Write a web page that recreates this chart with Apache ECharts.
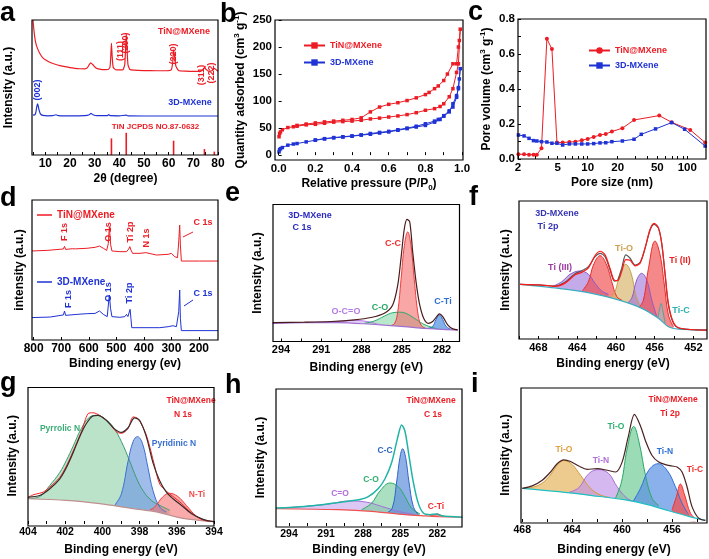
<!DOCTYPE html>
<html><head><meta charset="utf-8">
<script src="https://cdn.jsdelivr.net/npm/echarts@6/dist/echarts.min.js"></script>
<style>html,body{margin:0;padding:0;background:#fff}#c{width:709px;height:559px}</style>
</head><body><div id="c"></div>
<script>
const FONT = '"Liberation Sans", Arial, sans-serif';
const RED = '#ec1c24', BLUE = '#1f33d4';

// ---------------- DATA ----------------
// (a) XRD
const xrdTiN = [[5,100],[5.4,92],[6,84],[6.8,79],[8,74.5],[9,72],[10,70.5],[12,68.5],[14,67.2],[16,66.2],[18,65.4],[20,64.7],[22,64.2],[24,63.9],[26,63.8],[27,64.5],[27.8,67],[28.4,68.3],[29.2,67],[30.5,64.5],[32,63.6],[34,63.2],[35.5,63.3],[36.2,65],[36.5,72],[36.8,82.7],[37.1,73],[37.5,65],[38.5,63.2],[40,63],[41.5,63.2],[42.2,67],[42.5,78],[42.8,90],[43.1,79],[43.5,67],[44.3,63.3],[46,62.8],[50,62.5],[55,62.4],[59,62.4],[61,63],[61.6,68],[62,78],[62.4,73],[62.9,66],[64,62.6],[67,62.1],[70,61.9],[73,62],[74,63.5],[74.5,64.7],[75.1,63.5],[76,62.2],[77.5,62.4],[78.4,64.2],[79,63.6],[80,62]];
const xrdMX = [[5,29.5],[5.8,29.8],[6.2,32],[6.5,35.5],[6.8,37.8],[7.1,36.5],[7.5,33],[8,30.5],[9,29.3],[11,29],[13,29.1],[14.3,29.8],[15.2,29.2],[18,29],[22,29],[26,29.1],[27.8,29.8],[28.5,30.9],[29.3,29.8],[31,29.1],[35,29.1],[35.7,29.9],[36.4,29.1],[40,29],[42.8,29.5],[43.5,29],[50,28.9],[60,28.9],[70,28.9],[80,28.9]];
const tinRef = [[36.8,12.3],[42.8,16.5],[62.0,10.6],[74.5,4.4],[78.5,2.5]];
const xrdLabelsX = [10,20,30,40,50,60,70,80];

// (b) N2 isotherms
const tinAds = [[0.002,34],[0.005,40],[0.01,43],[0.02,47],[0.05,51],[0.08,52.5],[0.1,53.5],[0.15,56],[0.2,57],[0.25,59],[0.3,61],[0.35,62],[0.4,63],[0.45,64.5],[0.5,67],[0.55,68.5],[0.6,70.5],[0.65,72.5],[0.7,75],[0.75,78.5],[0.8,83],[0.85,86],[0.88,90],[0.9,95],[0.93,108],[0.95,123],[0.97,153],[0.98,169],[0.99,233]];
const tinDes = [[0.985,212],[0.98,200],[0.97,169],[0.95,169],[0.92,150],[0.9,138],[0.87,128],[0.85,123],[0.82,116],[0.8,112],[0.75,106],[0.7,101],[0.65,97],[0.6,94],[0.55,89],[0.5,80],[0.45,69],[0.4,66],[0.35,64.5],[0.3,63],[0.25,61.5],[0.2,59.6],[0.15,57.5],[0.1,55]];
const mxAds = [[0.002,6],[0.005,10],[0.01,12],[0.02,14],[0.05,18.4],[0.08,20.5],[0.1,21.5],[0.15,24.5],[0.2,27.6],[0.25,30],[0.3,32],[0.35,33.5],[0.4,35],[0.45,37],[0.5,38.7],[0.55,41],[0.6,43],[0.65,46],[0.7,49],[0.75,52],[0.8,55],[0.85,61],[0.88,66],[0.9,72],[0.93,80],[0.95,95],[0.97,110],[0.98,123],[0.99,160]];
const mxDes = [[0.985,141],[0.98,125],[0.97,107],[0.95,89],[0.93,82],[0.9,73],[0.87,66],[0.85,63],[0.8,58],[0.75,53.5],[0.7,50],[0.65,47],[0.6,44],[0.55,42],[0.5,40],[0.45,37.5],[0.4,35.6],[0.35,34],[0.3,32.5],[0.25,30.5],[0.2,28]];
const isoYLabels = [0,50,100,150,200,250];
const isoXLabels = [0,0.2,0.4,0.6,0.8,1.0];

// (c) pore size distribution
const tinPore = [[2.02,0.027],[2.30,0.027],[2.58,0.025],[2.86,0.025],[3.09,0.025],[3.44,0.061],[3.90,0.687],[4.38,0.628],[4.92,0.094],[5.61,0.094],[6.55,0.097],[7.53,0.099],[8.73,0.107],[10.0,0.115],[11.5,0.126],[13.3,0.137],[15.2,0.143],[17.5,0.157],[22.3,0.176],[29.2,0.223],[52.3,0.248],[69.6,0.21],[107,0.166],[151,0.094]];
const mxPore = [[2.02,0.137],[2.30,0.132],[2.58,0.118],[2.86,0.105],[3.09,0.103],[3.44,0.099],[3.90,0.097],[4.38,0.09],[4.92,0.09],[5.61,0.08],[6.55,0.086],[7.53,0.086],[8.73,0.086],[10.0,0.086],[11.5,0.088],[13.3,0.092],[15.2,0.093],[17.5,0.099],[22.3,0.103],[29.2,0.113],[34.5,0.141],[48,0.172],[69.6,0.208],[94,0.17],[151,0.074]];
const poreXLabels = [2,5,10,20,50,100];
const poreXTicks = [2,3,4,5,6,7,8,9,10,20,30,40,50,60,70,80,90,100];
const poreYLabels = [0,0.2,0.4,0.6,0.8];

// (d) XPS survey
const surveyTiN = [[806,63.6],[752,64],[704,64.8],[692,65],[688,66.9],[684,64.7],[660,65.2],[648,65.1],[643,66.4],[639,65.2],[607,65.5],[577,66.2],[561,67.1],[547,65.5],[535,64],[529,69],[525.3,81],[520.5,68],[516,63.6],[487,63.1],[463,63.1],[455,65],[451,66.7],[447,64.3],[441,61.9],[414,61.9],[393,62.4],[388,61.2],[354,60.7],[312,61.2],[300,61.9],[288,59.5],[278,58.8],[273.5,70],[270,82.1],[267.5,68],[264,56.4],[198,56.4],[131,56.4]];
const surveyMX = [[806,16],[740,16.4],[692,17.9],[688,20.7],[684,17.6],[643,18.3],[607,18.8],[577,19],[561,20.7],[547,18.3],[533,16.7],[529,25],[525.3,32.1],[521,22.6],[516,16.7],[487,16.2],[469,16.7],[463,18.3],[458,16.7],[453,17.9],[450,21.9],[447,15.5],[444,8.8],[342,8.8],[312,9.5],[294,10.2],[282,9.5],[273.5,20.2],[270,35.7],[267.5,15.5],[264,6.7],[131,6.7]];
const surveyLabels = [800,700,600,500,400,300,200];

// (e) 3D-MXene C 1s
const eBg = [[294.62,13.3],[292.26,13.8],[289.78,13.8],[287.29,12.6],[286.05,11.7],[284.81,10.9],[283.57,9.7],[282.32,9.0],[280.83,8.3]];
const eEnv = [[294.62,13.8],[292.26,14.1],[290.27,14.6],[288.53,15.8],[287.29,17.5],[286.30,20.6],[285.68,26.7],[285.30,41.3],[285.06,60.7],[284.81,82.5],[284.61,89.1],[284.41,87.4],[284.19,65.5],[283.94,43.7],[283.69,27.9],[283.37,17],[283.02,13.3],[282.70,14.6],[282.40,18.2],[282.20,20.1],[281.95,18.2],[281.58,12.1],[281.20,9.2],[280.83,8.5]];
const eCC = [[285.93,11.5],[285.55,13],[285.30,22],[285.06,45],[284.81,70],[284.56,80],[284.32,70],[284.07,45],[283.82,22],[283.57,12],[283.20,9.5]];
const eCO = [[287.79,13.3],[287.04,15],[286.30,18.5],[285.68,21],[285.18,21.4],[284.69,20.5],[284.07,17],[283.44,13],[282.82,10.5],[282.32,9.2]];
const eCTi = [[283.07,9.5],[282.70,11],[282.45,16],[282.20,19.4],[281.95,16],[281.70,11],[281.33,8.8]];
const eOCO = [[292.26,13.9],[290.77,14.3],[289.53,14.8],[288.53,15.4],[287.54,14.5],[286.55,12.2],[285.55,11.2]];
const c1sLabels = [294,291,288,285,282];
const c1sTicks = [294,292.5,291,289.5,288,286.5,285,283.5,282];

// (f) 3D-MXene Ti 2p
const fBg = [[469.89,39.6],[465.94,36.7],[462.49,33.1],[459.74,28.3],[457.33,22.2],[455.61,15.0],[454.58,8.9],[453.55,7.2],[450.62,6.5]];
const fEnv = [[469.89,39.6],[467.66,39.1],[466.28,38.4],[465.25,41.1],[464.21,47.3],[463.53,49.5],[462.84,52.4],[462.15,59.7],[461.63,62.1],[461.12,59.7],[460.60,50],[460.15,42],[459.81,42.8],[459.40,51.2],[458.98,60.9],[458.54,58.5],[458.02,53.6],[457.50,55.6],[456.99,65.7],[456.47,79],[456.06,83.1],[455.61,80.2],[455.27,69.3],[454.92,46.4],[454.58,24.6],[454.06,11.4],[453.38,7.7],[450.62,6.5]];
const fFit = [[469.89,39.6],[467.66,39.1],[466.28,38.2],[465.25,40.5],[464.21,46.5],[463.53,48.3],[462.84,51.5],[462.15,60.5],[461.63,63.6],[461.12,61],[460.60,51],[460.15,42.5],[459.81,42.3],[459.40,49],[458.98,57.5],[458.54,57],[458.02,53],[457.50,55],[456.99,66],[456.47,79.5],[456.06,83.8],[455.61,80.5],[455.27,69],[454.92,47],[454.58,25.5],[454.06,12],[453.38,7.8],[450.62,6.5]];
const fTi3a = [[466.62,37.9],[465.59,41.5],[464.73,46.9],[463.70,49.3],[462.84,46.9],[462.15,40.3],[461.46,34.8],[460.77,32.4]];
const fTi2a = [[463.53,34.3],[462.84,41.5],[462.32,53.6],[461.63,60.4],[460.95,53.6],[460.43,41.5],[459.91,30.7],[459.40,28.3]];
const fTiO = [[460.60,30],[460.09,34.3],[459.57,47.6],[458.98,54.1],[458.43,47.6],[457.95,31.9],[457.50,24.2]];
const fTi3b = [[458.88,25.8],[458.37,29.5],[457.85,42.8],[457.33,47.6],[456.82,42.8],[456.30,28.3],[455.78,16.2]];
const fTi2b = [[457.67,22.2],[457.16,28.3],[456.64,51.2],[455.96,71],[455.44,60.9],[455.0,39.1],[454.58,17.4],[454.06,8.9]];
const fTiC = [[455.68,15],[455.51,21],[455.34,25.8],[455.16,20.3],[454.92,11.4]];
const ti2pLabelsF = [468,464,460,456,452];
const ti2pTicksF = [470,468,466,464,462,460,458,456,454,452];

// (g) TiN@MXene N 1s
const gBg = [[404,18.5],[401.94,17.3],[400.15,14.9],[398.35,11.3],[397.10,8.9],[395.67,4.1],[394.0,1.7]];
const gEnv = [[404,19.7],[403.37,20.9],[402.84,25.7],[402.30,32.9],[401.94,41.2],[401.58,52],[401.22,64],[400.86,73.6],[400.51,79.1],[400.24,79.6],[399.79,76],[399.34,69.5],[398.98,67.1],[398.62,70.5],[398.27,77.7],[398.0,76],[397.64,64],[397.28,44.8],[396.92,31.7],[396.56,23.3],[396.20,18.5],[395.76,13.7],[395.22,7.7],[394.59,3.4],[394.0,1.7]];
const gRaw = [[404,18.9],[403.82,20.9],[403.55,22],[403.19,23.3],[402.84,26.9],[402.30,34],[401.94,42.4],[401.58,53.2],[401.13,67.6],[400.77,80.8],[400.51,81.5],[400.15,79.6],[399.70,74.8],[399.25,67.6],[398.98,66.4],[398.62,70],[398.35,78.4],[398.09,77.2],[397.64,65.2],[397.19,42.4],[396.92,29.3],[396.56,24],[396.20,20.1],[395.76,15.3],[395.22,8.2],[394.59,2.9],[394.0,1.7]];
const gPyrrolic = [[404,18.5],[403.37,20.1],[402.84,28.1],[402.30,37.6],[401.94,46.5],[401.58,56.8],[401.13,70],[400.68,78.4],[400.29,79.6],[399.88,77.2],[399.43,71.2],[398.98,60.4],[398.53,46],[398.18,34],[397.82,24.5],[397.37,17.3],[396.92,13.7],[396.38,10.1]];
const gPyridinic = [[399.34,13.7],[398.98,22.1],[398.62,46],[398.35,60.4],[398.12,64],[397.85,59.2],[397.55,41.2],[397.28,24.5],[396.92,12.5],[396.56,8.9]];
const gNTi = [[397.64,8.9],[397.19,12.5],[396.74,20.1],[396.38,22.5],[395.94,20.1],[395.49,13.7],[394.95,5.8],[394.41,2.4]];
const n1sLabels = [404,402,400,398,396,394];
const n1sTicks = [404,403,402,401,400,399,398,397,396,395,394];

// (h) TiN@MXene C 1s
const hBg = [[295.05,12.6],[290.01,11.9],[287.31,10.7],[284.61,8.3],[283.0,7.4],[281.92,6.9],[279.98,6.4]];
const hEnv = [[295.05,13.1],[292.71,14.3],[291.36,15.5],[290.01,17.1],[289.06,18.3],[288.26,19.3],[287.58,21.4],[286.77,27.4],[286.23,34.5],[285.69,46.4],[285.21,64.3],[284.88,73.8],[284.61,69],[284.29,51.2],[283.94,32.1],[283.54,16.7],[283.13,9.5],[282.59,8.3],[282.05,8.8],[281.65,7.4],[279.98,6.4]];
const hCdO = [[295.05,12.9],[292.71,14.3],[290.82,16],[289.06,18.3],[287.72,17.4],[286.50,14.3],[285.15,10.7],[283.81,8.3]];
const hCO = [[288.12,11.9],[287.31,16.7],[286.64,25.5],[285.83,31.4],[285.15,28.6],[284.61,21.4],[284.08,13.1],[283.40,8.8]];
const hCC = [[286.10,9.5],[285.64,13.1],[285.29,32.1],[285.02,50],[284.80,56.4],[284.56,50],[284.29,32.1],[283.94,14.3],[283.54,8.3]];
const hCTi = [[282.59,7.6],[282.19,8.3],[282.0,8.8],[281.78,8.1],[281.38,6.9]];

// (i) TiN@MXene Ti 2p
const iBg = [[468,25.1],[465.07,22.6],[462.4,19.7],[459.73,16.5],[457.87,12.8],[456.27,8.4],[454.67,4.2],[453.33,1.2]];
const iEnv = [[468,25.1],[467.2,27],[466.4,31.2],[465.73,37.3],[465.2,43.5],[464.67,46.4],[464.13,45.2],[463.47,41.8],[462.8,39.3],[462.0,39.8],[461.2,38.6],[460.53,37.3],[460.0,44.7],[459.52,63.1],[459.01,80.3],[458.53,71.7],[458.13,60.7],[457.6,49.6],[457.07,44.7],[456.53,42.8],[456.0,41.8],[455.6,41],[455.2,37.3],[454.8,26.3],[454.4,11.5],[453.87,2.9],[453.33,1.2]];
const iTiOa = [[467.73,25.1],[466.67,27.5],[465.87,33.7],[465.2,42.3],[464.67,45.9],[464.0,42.8],[463.33,34.9],[462.53,25.1],[461.73,20.1],[460.93,18.2]];
const iTiNa = [[464.27,22.1],[463.47,25.6],[462.67,36.1],[461.87,39.1],[461.07,36.1],[460.40,26.3],[459.6,17.7],[458.67,14]];
const iTiOb = [[460.53,17.7],[460.05,30],[459.6,54.5],[459.07,71.3],[458.61,58.2],[458.13,34.9],[457.6,17.7],[457.07,12.3]];
const iTiNb = [[459.2,14],[458.53,25.1],[457.87,38.6],[457.12,43.5],[456.4,38.6],[455.73,26.3],[455.2,14],[454.67,5.4]];
const iTiC = [[456.0,9.1],[455.65,18.9],[455.33,28.3],[454.99,20.1],[454.53,6.6],[454.13,2.5]];
const ti2pLabelsI = [468,464,460,456];
const ti2pTicksI = [468,466,464,462,460,458,456,454];

// ---------------- BUILD ----------------
const RICH = {
  sup: {fontFamily: FONT, fontWeight: 'bold', fontSize: 8, verticalAlign: 'top', lineHeight: 16},
  sub: {fontFamily: FONT, fontWeight: 'bold', fontSize: 8, verticalAlign: 'bottom', lineHeight: 16}
};
const option = {animation: false, backgroundColor: '#fff', grid: [], xAxis: [], yAxis: [], series: [], legend: [], graphic: []};

function axis(gi, o, dir) {
  const a = {
    gridIndex: gi, type: o.type || 'value', min: o.min, max: o.max, inverse: !!o.inverse, z: 10,
    position: dir === 'x' ? 'bottom' : 'left',
    name: o.name || '', nameLocation: 'middle', nameGap: o.gap || 10,
    nameTextStyle: {fontFamily: FONT, fontWeight: 'bold', fontSize: 12, color: '#000', lineHeight: 16, rich: RICH},
    axisLine: {show: false},
    axisTick: {show: !!o.ticks, inside: true, length: 3, lineStyle: {color: '#000', width: 1}},
    axisLabel: {show: !!o.labels, margin: 3, color: '#000', fontFamily: FONT, fontWeight: 'bold', fontSize: o.fs || 11},
    splitLine: {show: false}, minorTick: {show: false}, minorSplitLine: {show: false}
  };
  if (o.ticks) a.axisTick.customValues = o.ticks;
  if (o.labels) a.axisLabel.customValues = o.labels;
  if (o.fmt) a.axisLabel.formatter = o.fmt;
  if (o.logBase) a.logBase = o.logBase;
  return a;
}
function addPanel(box, xo, yo) {
  const gi = option.grid.length;
  const [l, t, w, h] = box;
  option.grid.push({left: l, top: t, width: w, height: h});
  option.xAxis.push(axis(gi, xo, 'x'));
  option.yAxis.push(axis(gi, yo, 'y'));
  option.graphic.push({type: 'rect', silent: true, z: 100, shape: {x: l, y: t, width: w, height: h}, style: {fill: null, stroke: '#000', lineWidth: 1.2}});
  return gi;
}
function addLine(gi, data, o) {
  const s = {
    type: 'line', xAxisIndex: gi, yAxisIndex: gi, data: data, name: o.name, silent: true,
    symbol: o.symbol || 'none', symbolSize: o.size || 4, showSymbol: !!o.symbol,
    smooth: o.smooth || 0, lineStyle: {color: o.color, width: o.width || 1}, itemStyle: {color: o.color},
    z: o.z || 2, clip: true
  };
  if (o.fill) s.areaStyle = {color: o.fill, opacity: o.op == null ? 0.55 : o.op, origin: 'start'};
  option.series.push(s);
}
function addXps(gi, comps, bg, bgColor, envs) {
  comps.forEach(c => addLine(gi, c.d, {color: c.c, fill: c.f, op: c.op, smooth: 0.4}));
  addLine(gi, bg, {color: bgColor, fill: '#fff', op: 1, smooth: 0.3, z: 3, width: 1.2});
  envs.forEach(e => addLine(gi, e.d, {color: e.c, width: e.w || 1.2, smooth: 0.3, z: 4}));
}
function txt(s, x, y, color, size, rot) {
  option.graphic.push({type: 'text', x: x, y: y, rotation: rot ? Math.PI / 2 : 0, silent: true, z: 50,
    style: {text: s, fill: color, font: 'bold ' + size + 'px ' + FONT, align: 'center', verticalAlign: 'middle'}});
}
function letter(s, x, y) {
  option.graphic.push({type: 'text', x: x, y: y, silent: true, z: 50,
    style: {text: s, fill: '#000', font: 'bold 27px ' + FONT, align: 'left', verticalAlign: 'top'}});
}
function seg(x1, y1, x2, y2, color) {
  option.graphic.push({type: 'line', silent: true, z: 50, shape: {x1, y1, x2, y2}, style: {stroke: color, lineWidth: 1}});
}
const LEG = {b_tin: 'TiN@MXene', b_mx: '3D-MXene', c_tin: 'TiN@MXene', c_mx: '3D-MXene', d_tin: 'TiN@MXene', d_mx: '3D-MXene'};
function legend(items, left, top, w, h, gap, fs, icon) {
  const lg = {
    data: items.map(i => ({name: i[0], textStyle: {color: i[1]}})),
    orient: 'vertical', left: left, top: top, itemWidth: w, itemHeight: h, itemGap: gap, padding: 0,
    selectedMode: false, formatter: n => LEG[n],
    textStyle: {fontFamily: FONT, fontWeight: 'bold', fontSize: fs}
  };
  if (icon) lg.icon = icon;
  option.legend.push(lg);
}
const XPS_Y = {min: 0, max: 100, name: 'Intensity (a.u.)'};

// (a)
let g = addPanel([32, 20, 186, 135],
  {min: 5, max: 80, labels: xrdLabelsX, ticks: [5,10,15,20,25,30,35,40,45,50,55,60,65,70,75,80], name: '2θ (degree)', gap: 14, fs: 12},
  {min: 0, max: 100, name: 'Intensity (a.u.)', gap: 16});
addLine(g, xrdTiN, {color: RED, width: 1.2, smooth: 0.15});
addLine(g, xrdMX, {color: BLUE, width: 1.2, smooth: 0.15});
option.series.push({type: 'bar', xAxisIndex: g, yAxisIndex: g, data: tinRef, barWidth: 1.6, itemStyle: {color: RED}, silent: true});

// (b)
g = addPanel([275, 20, 188, 140],
  {min: -0.02, max: 1.005, labels: isoXLabels, ticks: [0,0.1,0.2,0.3,0.4,0.5,0.6,0.7,0.8,0.9,1.0], fmt: v => Number(v).toFixed(1), name: 'Relative pressure (P/P{sub|0})', gap: 14, fs: 11.5},
  {min: -9, max: 250, labels: isoYLabels, ticks: isoYLabels, name: 'Quantity adsorbed (cm{sup|3} g{sup|-1})', gap: 25, fs: 11.5});
addLine(g, tinAds.concat(tinDes), {name: 'b_tin', color: RED, symbol: 'rect', size: 3.5, width: 1});
addLine(g, mxAds.concat(mxDes), {name: 'b_mx', color: BLUE, symbol: 'rect', size: 3.5, width: 1});
legend([['b_tin', RED], ['b_mx', BLUE]], 303, 41, 21, 8, 8, 9);

// (c)
g = addPanel([518, 19, 188, 140],
  {type: 'log', logBase: 10, min: 2, max: 154, labels: poreXLabels, ticks: poreXTicks, name: 'Pore size (nm)', gap: 15, fs: 11.5},
  {min: 0, max: 0.8, labels: poreYLabels, ticks: [0,0.1,0.2,0.3,0.4,0.5,0.6,0.7,0.8], fmt: v => Number(v).toFixed(1), name: 'Pore volume (cm{sup|3} g{sup|-1})', gap: 23, fs: 11.5});
addLine(g, tinPore, {name: 'c_tin', color: RED, symbol: 'circle', size: 4, width: 1});
addLine(g, mxPore, {name: 'c_mx', color: BLUE, symbol: 'rect', size: 3.5, width: 1});
legend([['c_tin', RED], ['c_mx', BLUE]], 588, 46, 21, 8, 6, 9);

// (d)
g = addPanel([32, 200, 186, 140],
  {min: 131, max: 806, inverse: true, labels: surveyLabels, ticks: surveyLabels, name: 'Binding energy (ev)', gap: 16, fs: 12},
  {min: 0, max: 100, name: 'intensity (a.u.)', gap: 4});
addLine(g, surveyTiN, {name: 'd_tin', color: RED, width: 1});
addLine(g, surveyMX, {name: 'd_mx', color: BLUE, width: 1});
legend([['d_tin', RED]], 37, 210, 15, 1.5, 8, 10, 'rect');
legend([['d_mx', BLUE]], 37, 277, 15, 1.5, 8, 10, 'rect');

// (e)
g = addPanel([273, 204.5, 186.5, 137],
  {min: 280.7, max: 294.6, inverse: true, labels: c1sLabels, ticks: c1sTicks, name: 'Binding energy (eV)', gap: 18}, Object.assign({gap: 7}, XPS_Y));
addXps(g, [
  {d: eOCO, c: '#b57ce6', f: '#c9a0ee', op: 0.5},
  {d: eCO, c: '#27a86a', f: '#7fd3a0', op: 0.55},
  {d: eCC, c: '#f03c3c', f: '#f46a6a', op: 0.6},
  {d: eCTi, c: '#2f6fd0', f: '#4f8fe0', op: 0.7}
], eBg, '#a070d0', [{d: eEnv, c: '#4a1a1a'}]);

// (f)
g = addPanel([519, 201, 188, 138],
  {min: 450.6, max: 470, inverse: true, labels: ti2pLabelsF, ticks: ti2pTicksF, name: 'Binding energy (eV)', gap: 17}, Object.assign({gap: 5}, XPS_Y));
addXps(g, [
  {d: fTi3a, c: '#8a5cc8', f: '#9c72d8', op: 0.6},
  {d: fTi2a, c: '#ee2a2a', f: '#f04848', op: 0.65},
  {d: fTiO, c: '#c7a04a', f: '#d9b870', op: 0.7},
  {d: fTi3b, c: '#8a5cc8', f: '#9c72d8', op: 0.6},
  {d: fTi2b, c: '#ee2a2a', f: '#f04848', op: 0.65},
  {d: fTiC, c: '#5c9c9c', f: '#9fbcbc', op: 0.6}
], fBg, '#3aaec0', [{d: fEnv, c: '#555555'}, {d: fFit, c: '#ff1a1a'}]);

// (g)
g = addPanel([28, 387.5, 186, 138.5],
  {min: 394, max: 404, inverse: true, labels: n1sLabels, ticks: n1sTicks, name: 'Binding energy (eV)', gap: 18, fs: 10.5}, Object.assign({gap: 7}, XPS_Y));
addXps(g, [
  {d: gPyrrolic, c: '#3a9c70', f: '#8ed0a6', op: 0.6},
  {d: gPyridinic, c: '#3d6fce', f: '#6d98e0', op: 0.65},
  {d: gNTi, c: '#f04040', f: '#f57373', op: 0.6}
], gBg, '#c09090', [{d: gRaw, c: '#ff2020', w: 1}, {d: gEnv, c: '#3a2a2a'}]);

// (h)
g = addPanel([276, 389, 186, 138],
  {min: 280, max: 295.05, inverse: true, labels: c1sLabels, ticks: c1sTicks, name: 'Binding energy (eV)', gap: 16, fs: 10.5}, Object.assign({gap: 7}, XPS_Y));
addXps(g, [
  {d: hCdO, c: '#a070d8', f: '#c6a2ec', op: 0.6},
  {d: hCO, c: '#2aa866', f: '#72cc98', op: 0.6},
  {d: hCC, c: '#2f66c8', f: '#5e8fdc', op: 0.7},
  {d: hCTi, c: '#f03030', f: '#f06060', op: 0.7}
], hBg, '#f05050', [{d: hEnv, c: '#1fb5a5', w: 1.5}]);

// (i)
g = addPanel([521, 388, 186, 135],
  {min: 453.2, max: 468.1, inverse: true, labels: ti2pLabelsI, ticks: ti2pTicksI, name: 'Binding energy (eV)', gap: 20, fs: 10.5}, Object.assign({gap: 7}, XPS_Y));
addXps(g, [
  {d: iTiOa, c: '#d29a36', f: '#e6b560', op: 0.7},
  {d: iTiNa, c: '#a86ed8', f: '#c092ea', op: 0.65},
  {d: iTiOb, c: '#2aa866', f: '#70cc96', op: 0.7},
  {d: iTiNb, c: '#2f6fd8', f: '#5a90e4', op: 0.7},
  {d: iTiC, c: '#f03030', f: '#f35050', op: 0.75}
], iBg, '#1ebfc0', [{d: iEnv, c: '#4a2222'}]);

// ---------------- TEXT ----------------
// a
txt('TiN@MXene', 184, 32, RED, 9);
txt('(111)', 121, 51, RED, 9, true);
txt('(200)', 126, 43, RED, 9, true);
txt('(220)', 174, 54, RED, 9, true);
txt('(311)', 201.5, 75, RED, 9, true);
txt('(222)', 211.5, 73, RED, 9, true);
txt('(002)', 38, 90, BLUE, 9, true);
txt('3D-MXene', 190, 103, BLUE, 9);
txt('TiN JCPDS NO.87-0632', 155.5, 127, RED, 8);
// d
txt('F 1s', 65, 232, RED, 9, true);
txt('O 1s', 109, 232, RED, 9, true);
txt('Ti 2p', 131, 232, RED, 9, true);
txt('N 1s', 147, 238, RED, 9, true);
txt('C 1s', 203, 223, RED, 9);
seg(193, 232, 183, 237, RED);
txt('F 1s', 69, 299, BLUE, 9, true);
txt('O 1s', 109, 292, BLUE, 9, true);
txt('Ti 2p', 130, 293, BLUE, 9, true);
txt('C 1s', 203, 294, BLUE, 9);
seg(193, 300, 184, 306, BLUE);
// e
txt('3D-MXene', 310, 216, '#2a2ac0', 9);
txt('C 1s', 302, 228, '#2a2ac0', 9);
txt('C-C', 393, 244, '#f03030', 9);
txt('C-O', 380, 308, '#2aa866', 9);
txt('O-C=O', 346, 312, '#b57ce6', 9);
txt('C-Ti', 443, 302, '#2f6fd0', 9);
// f
txt('3D-MXene', 557, 214, '#3535b5', 9);
txt('Ti 2p', 548, 227, '#3535b5', 9);
txt('Ti (III)', 560, 268, '#9a3aa0', 9);
txt('Ti-O', 624, 249, '#d0a050', 9);
txt('Ti (II)', 680, 261, '#ee2020', 9);
txt('Ti-C', 681, 311, '#2ab0b0', 9);
// g
txt('TiN@MXene', 191, 401, RED, 8.5);
txt('N 1s', 183, 415, RED, 8.5);
txt('Pyrrolic N', 60, 429, '#3cae78', 8.5);
txt('Pyridinic N', 174, 444, '#3a70d0', 8.5);
txt('N-Ti', 197, 495, '#f05050', 8.5);
// h
txt('TiN@MXene', 431, 401, RED, 8.5);
txt('C 1s', 433, 415, RED, 8.5);
txt('C-C', 385, 451, '#2f66c8', 8.5);
txt('C-O', 371, 480, '#30b070', 8.5);
txt('C=O', 340, 494, '#b070d8', 8.5);
txt('C-Ti', 436, 507, '#f03030', 8.5);
// i
txt('TiN@MXene', 673, 400, RED, 8.5);
txt('Ti 2p', 670, 414, RED, 8.5);
txt('Ti-O', 616, 427, '#30b070', 8.5);
txt('Ti-O', 564, 450, '#e0a040', 8.5);
txt('Ti-N', 601, 461, '#b070d8', 8.5);
txt('Ti-N', 665, 452, '#2f6fd8', 8.5);
txt('Ti-C', 695, 470, '#f03030', 8.5);
// panel letters
letter('a', 0, 0); letter('b', 220, 1); letter('c', 468, -1);
letter('d', 0, 185); letter('e', 225, 180); letter('f', 469, 184);
letter('g', 0, 370); letter('h', 225, 372); letter('i', 471, 371);

const chart = echarts.init(document.getElementById('c'), null, {renderer: 'canvas'});
chart.setOption(option);
</script></body></html>
